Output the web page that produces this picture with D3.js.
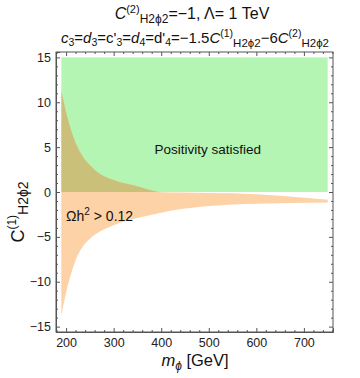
<!DOCTYPE html>
<html><head><meta charset="utf-8">
<script src="https://cdn.jsdelivr.net/npm/d3@7"></script>
<style>body{margin:0;background:#fff}svg{display:block}text{font-family:"Liberation Sans",Arial,sans-serif}</style>
</head><body><svg id="c" width="360" height="378"></svg>
<script>
// data
const massValues = [190, 200, 210, 220, 230, 250, 275, 300, 350, 400, 450, 500, 550, 600, 650, 700, 750];
const relicUpper = [11.3, 8.9, 7.0, 5.5, 4.4, 3.0, 1.9, 1.35, 0.65, -0.02, -0.06, -0.1, -0.15, -0.25, -0.42, -0.64, -0.87];
const relicLower = [-13.8, -11.2, -9.2, -7.6, -6.5, -5.2, -4.3, -3.7, -2.9, -2.3, -1.85, -1.55, -1.38, -1.3, -1.25, -1.21, -1.17];
const positivityRegion = {xMin: 190, xMax: 750, yMin: 0, yMax: 15};
const xTicks = [200, 300, 400, 500, 600, 700];
const yTicks = [-15, -10, -5, 0, 5, 10, 15];

const svg = d3.select("#c");
const L = 56, R = 333, T = 52, B = 332;
const x = d3.scaleLinear().domain([178.8, 761.2]).range([L, R]);
const y = d3.scaleLinear().domain([-15.6, 15.6]).range([B, T]);

const pts = massValues.map((m, i) => ({m, u: relicUpper[i], l: relicLower[i]}));

svg.append("clipPath").attr("id", "gclip").append("rect")
  .attr("x", x(positivityRegion.xMin)).attr("y", y(positivityRegion.yMax))
  .attr("width", x(positivityRegion.xMax) - x(positivityRegion.xMin))
  .attr("height", y(positivityRegion.yMin) - y(positivityRegion.yMax));

svg.append("rect")
  .attr("x", x(positivityRegion.xMin)).attr("y", y(positivityRegion.yMax))
  .attr("width", x(positivityRegion.xMax) - x(positivityRegion.xMin))
  .attr("height", y(positivityRegion.yMin) - y(positivityRegion.yMax))
  .attr("fill", "#b4f5b4");

const area = d3.area().x(d => x(d.m)).y0(d => y(d.l)).y1(d => y(d.u)).curve(d3.curveMonotoneX);
svg.append("path").datum(pts).attr("d", area).attr("fill", "#fdd2a6");
svg.append("path").datum(pts).attr("d", area).attr("fill", "#cbc079").attr("clip-path", "url(#gclip)");

// axes frame
const axCol = "#555";
const minorX = d3.range(180, 761, 20).filter(v => v % 100);
const minorY = d3.range(-15, 16, 1).filter(v => v % 5);
const gx = svg.append("g").attr("transform", `translate(0,${B})`)
  .call(d3.axisBottom(x).tickValues(xTicks).tickSize(-4).tickPadding(6).tickFormat(d3.format("d")));
const gxm = svg.append("g").attr("transform", `translate(0,${B})`)
  .call(d3.axisBottom(x).tickValues(minorX).tickSize(-2).tickFormat(""));
const gxt = svg.append("g").attr("transform", `translate(0,${T})`)
  .call(d3.axisTop(x).tickValues(xTicks).tickSize(-4).tickFormat(""));
const gxtm = svg.append("g").attr("transform", `translate(0,${T})`)
  .call(d3.axisTop(x).tickValues(minorX).tickSize(-2).tickFormat(""));
const gy = svg.append("g").attr("transform", `translate(${L},0)`)
  .call(d3.axisLeft(y).tickValues(yTicks).tickSize(-4).tickPadding(5).tickFormat(d => d < 0 ? "\u2212" + Math.abs(d) : d));
const gym = svg.append("g").attr("transform", `translate(${L},0)`)
  .call(d3.axisLeft(y).tickValues(minorY).tickSize(-2).tickFormat(""));
const gyr = svg.append("g").attr("transform", `translate(${R},0)`)
  .call(d3.axisRight(y).tickValues(yTicks).tickSize(-4).tickFormat(""));
const gyrm = svg.append("g").attr("transform", `translate(${R},0)`)
  .call(d3.axisRight(y).tickValues(minorY).tickSize(-2).tickFormat(""));
svg.selectAll(".domain").attr("stroke", axCol).attr("stroke-width", 1);
svg.selectAll(".tick line").attr("stroke", axCol);
svg.selectAll(".tick text").attr("fill", "#222").style("font-size", "12.5px").style("font-family", "'Liberation Sans',Arial,sans-serif");
[gxm, gxtm, gym, gyrm, gxt, gyr].forEach(g => g.select(".domain").attr("d", null));
svg.append("rect").attr("x", L).attr("y", T).attr("width", R - L).attr("height", B - T)
  .attr("fill", "none").attr("stroke", axCol);

// region labels
svg.append("text").attr("x", x(498)).attr("y", y(4.2)).attr("text-anchor", "middle")
  .style("font-size", "13.5px").attr("fill", "#111").text("Positivity satisfied");
const om = svg.append("text").attr("x", x(200)).attr("y", y(-3.2)).style("font-size", "14px").attr("fill", "#111");
om.append("tspan").text("\u03A9h");
om.append("tspan").attr("dy", -6).style("font-size", "10px").text("2");
om.append("tspan").attr("dy", 6).text(" > 0.12");

// titles
const t1 = svg.append("text").attr("x", 192).attr("y", 19).attr("text-anchor", "middle").style("font-size", "16px").attr("fill", "#111");
t1.append("tspan").style("font-style", "italic").text("C");
t1.append("tspan").attr("dy", -6).style("font-size", "11px").text("(2)");
t1.append("tspan").attr("dy", 10).style("font-size", "12px").text("H2\u03D52");
t1.append("tspan").attr("dy", -4).text("=\u22121, \u039B= 1 TeV");

const t2 = svg.append("text").attr("x", 195).attr("y", 43).attr("text-anchor", "middle").style("font-size", "15px").attr("fill", "#111");
const parts = [
  ["c", "italic"], ["3", "sub"], ["=", ""], ["d", "italic"], ["3", "sub"], ["=c'", ""], ["3", "sub"], ["=", ""], ["d", "italic"], ["4", "sub"], ["=d'", ""], ["4", "sub"],
  ["=\u22121.5", ""], ["C", "italic"], ["(1)", "sup"], ["H2\u03D52", "sub2"], ["\u22126", ""], ["C", "italic"], ["(2)", "sup"], ["H2\u03D52", "sub2"]
];
let cur = 0;
parts.forEach(([s, k]) => {
  const ts = t2.append("tspan").text(s);
  let target = 0;
  if (k === "italic") ts.style("font-style", "italic");
  if (k === "sub") { ts.style("font-size", "10.5px"); target = 3; }
  if (k === "sup") { ts.style("font-size", "10.5px"); target = -6; }
  if (k === "sub2") { ts.style("font-size", "11.5px"); target = 4; }
  ts.attr("dy", target - cur); cur = target;
});

// axis titles
const yl = svg.append("text").attr("transform", `translate(24,${(T + B) / 2 + 20}) rotate(-90)`).attr("text-anchor", "middle")
  .style("font-size", "18px").attr("fill", "#111");
yl.append("tspan").text("C");
yl.append("tspan").attr("dy", -8).style("font-size", "12px").text("(1)");
yl.append("tspan").attr("dy", 12).style("font-size", "14px").text("H2\u03D52");

const xl = svg.append("text").attr("x", 195).attr("y", 366).attr("text-anchor", "middle").style("font-size", "16.5px").attr("fill", "#111");
xl.append("tspan").style("font-style", "italic").text("m");
xl.append("tspan").attr("dy", 4).style("font-size", "12px").style("font-style", "italic").text("\u03D5");
xl.append("tspan").attr("dy", -4).text(" [GeV]");
</script></body></html>
